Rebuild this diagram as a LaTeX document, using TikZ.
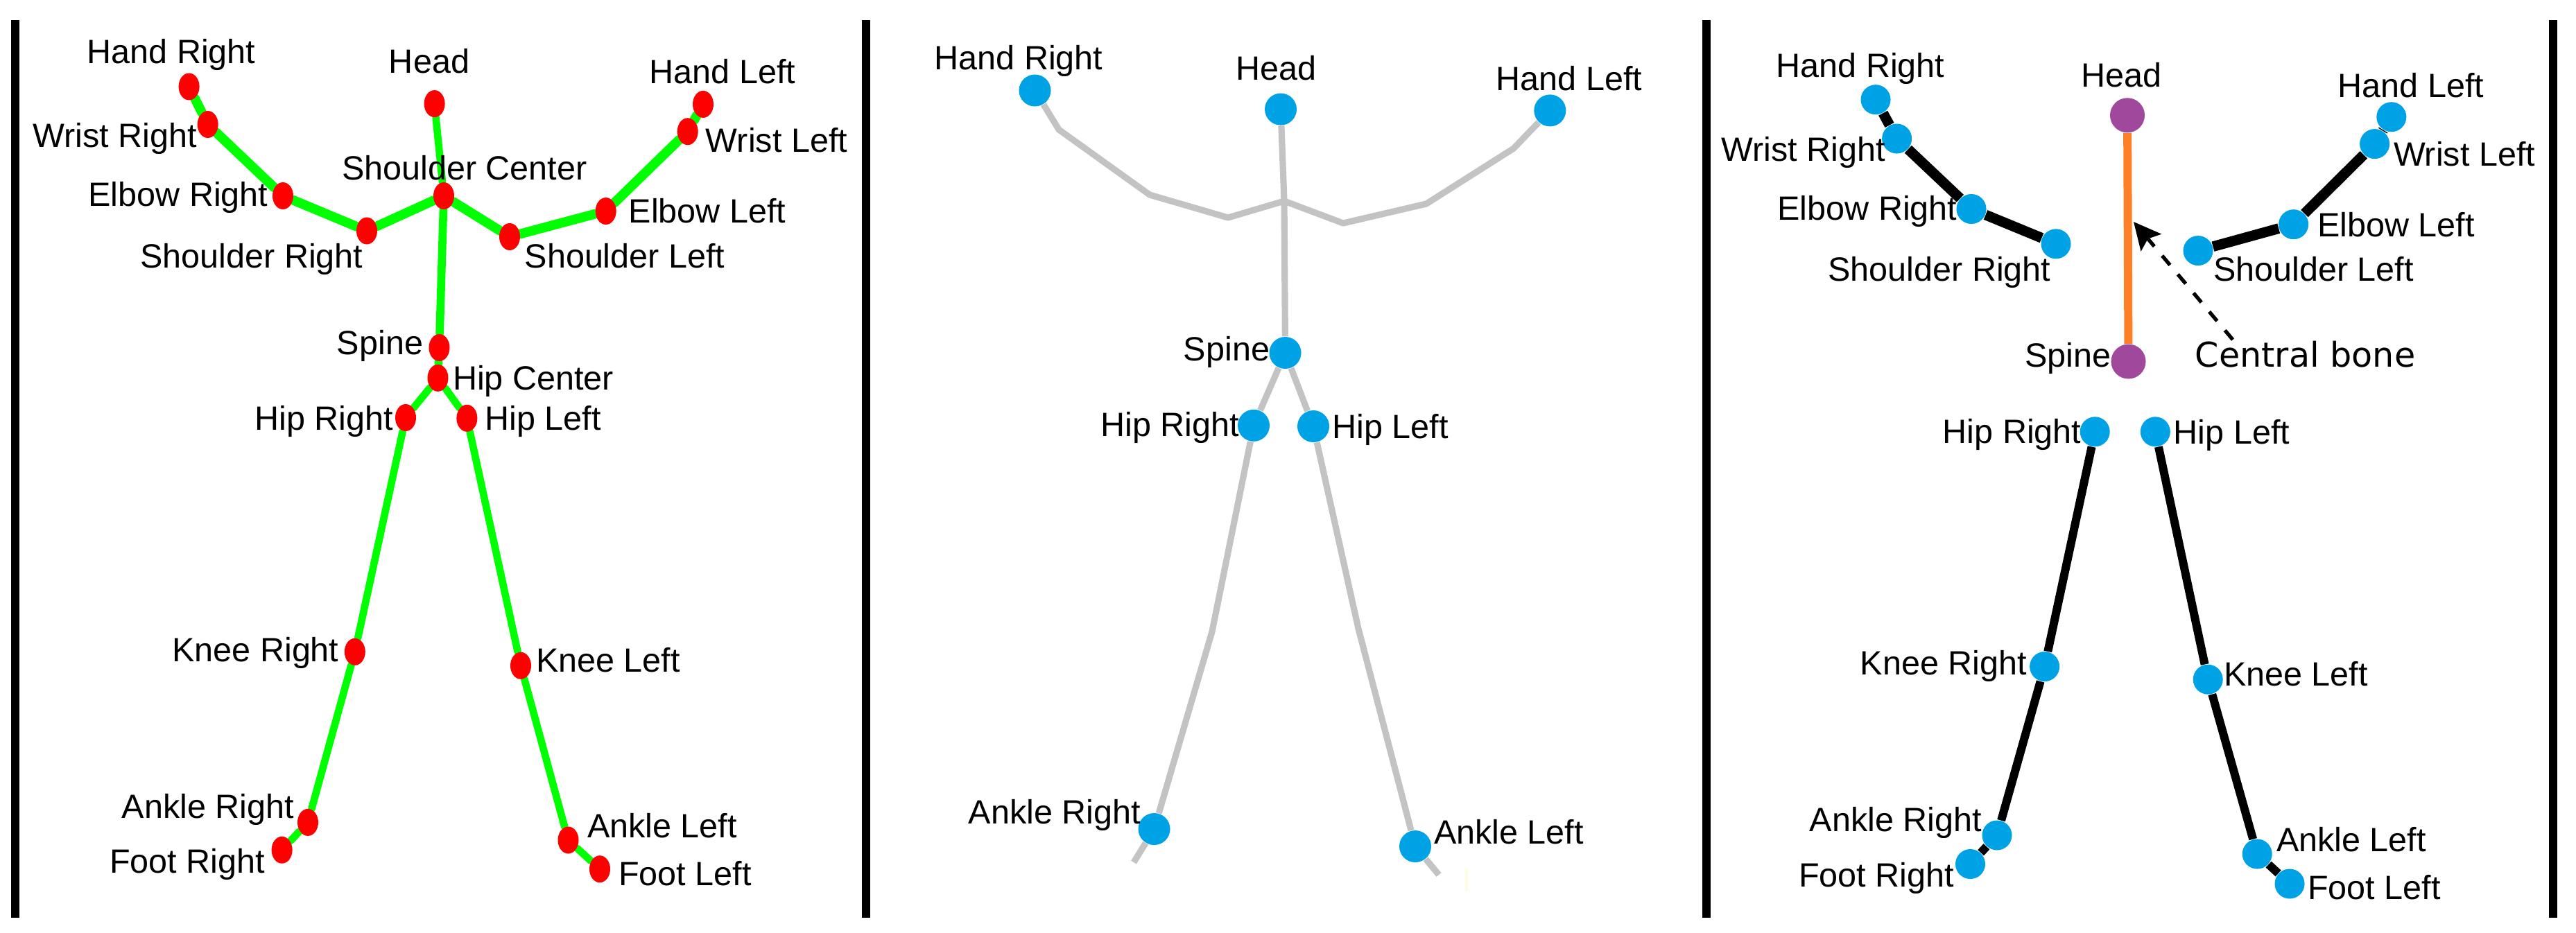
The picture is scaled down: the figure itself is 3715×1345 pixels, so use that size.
\documentclass[tikz,border=0pt]{standalone}
\usepackage{fontspec}
\setmainfont{Liberation Sans}
\newfontfamily\notefont{DejaVu Sans}
\usetikzlibrary{arrows.meta, shapes.geometric, backgrounds}
\definecolor{jred}{HTML}{FF0000}
\definecolor{jgreen}{HTML}{00FF00}
\definecolor{jblue}{HTML}{00A2E6}
\definecolor{jgrey}{HTML}{C3C3C3}
\definecolor{jpurple}{HTML}{A0489B}
\definecolor{jorange}{HTML}{FF7F27}
\tikzset{
  every picture/.style={font=\fontsize{13.8}{16}\selectfont},
  lbl/.style={anchor=base, inner sep=0pt},
  panelrule/.style={line width=3.4pt},
  rdot/.style={ellipse, fill=jred, minimum width=0.3cm, minimum height=0.39cm, inner sep=0pt},
  bdot/.style={circle, fill=jblue, minimum size=#1, inner sep=0pt},
  bdot/.default=0.46cm,
  pdot/.style={circle, fill=jpurple, minimum size=0.5cm, inner sep=0pt},
  gbone/.style={draw=jgreen, line width=#1, line cap=round},
  gbone/.default=3pt,
  greybone/.style={draw=jgrey, line width=2.6pt, line join=round},
  kbone/.style={draw=black, line width=#1},
  kbone/.default=3.4pt,
  central/.style={draw=jorange, line width=3.4pt},
  pointer/.style={-{Stealth[length=0.39cm, width=0.38cm, inset=0.07cm]}, dash pattern=on 5pt off 5pt, line width=1.5pt},
}

\begin{document}
\begin{tikzpicture}[x=0.01cm, y=-0.01cm]
  \useasboundingbox (0,0) rectangle (3715,1345);
  \draw[panelrule] (22,29) -- (22,1324);
  \draw[panelrule] (1249,29) -- (1249,1324);
  \draw[panelrule] (2461,29) -- (2461,1324);
  \draw[panelrule] (3682,29) -- (3682,1324);

  % kinect joints
  \node[rdot] (a-hr) at (272.6,125) {};
  \node[rdot] (a-wr) at (299.7,179.5) {};
  \node[rdot] (a-er) at (408,282.5) {};
  \node[rdot] (a-sr) at (529,333) {};
  \node[rdot] (a-sc) at (640,282.5) {};
  \node[rdot] (a-head) at (626.6,149.6) {};
  \node[rdot] (a-sl) at (735,341.5) {};
  \node[rdot] (a-el) at (873.7,304.5) {};
  \node[rdot] (a-wl) at (991.7,189.7) {};
  \node[rdot] (a-hl) at (1014,150.4) {};
  \node[rdot] (a-sp) at (633.5,501.5) {};
  \node[rdot] (a-hc) at (631.5,545.3) {};
  \node[rdot] (a-hpr) at (585,602.5) {};
  \node[rdot] (a-hpl) at (673.4,603.3) {};
  \node[rdot] (a-kr) at (511.8,940.3) {};
  \node[rdot] (a-kl) at (751,960.3) {};
  \node[rdot] (a-ar) at (444,1186.4) {};
  \node[rdot] (a-fr) at (406.6,1226.2) {};
  \node[rdot] (a-al) at (819.5,1212) {};
  \node[rdot] (a-fl) at (865,1253.7) {};
  \begin{scope}[on background layer]
    \draw[gbone=3.9pt] (a-hr) -- (a-wr) -- (a-er) -- (a-sr) -- (a-sc) -- (a-sl) -- (a-el) -- (a-wl) -- (a-hl);
    \draw[gbone] (a-head) -- (a-sc);
    \draw[gbone=3.3pt] (a-sc) -- (a-sp) -- (a-hc);
    \draw[gbone] (a-hc) -- (a-hpr) -- (a-kr) -- (a-ar) -- (a-fr);
    \draw[gbone] (a-hc) -- (a-hpl) -- (a-kl) -- (a-al) -- (a-fl);
  \end{scope}
  \node[lbl] (a-hr-t) at (247,91.5) {Hand Right};
  \node[lbl] (a-head-t) at (619,105) {Head};
  \node[lbl] (a-hl-t) at (1042,120) {Hand Left};
  \node[lbl] (a-wr-t) at (165.5,212) {Wrist Right};
  \node[lbl] (a-wl-t) at (1120,219) {Wrist Left};
  \node[lbl] (a-sc-t) at (670,259) {Shoulder Center};
  \node[lbl] (a-er-t) at (257,297) {Elbow Right};
  \node[lbl] (a-el-t) at (1020,321) {Elbow Left};
  \node[lbl] (a-sr-t) at (363,386) {Shoulder Right};
  \node[lbl] (a-sl-t) at (901,386) {Shoulder Left};
  \node[lbl] (a-sp-t) at (548,511) {Spine};
  \node[lbl] (a-hc-t) at (769,562) {Hip Center};
  \node[lbl] (a-hpr-t) at (467,620) {Hip Right};
  \node[lbl] (a-hpl-t) at (783,620) {Hip Left};
  \node[lbl] (a-kr-t) at (368.5,954) {Knee Right};
  \node[lbl] (a-kl-t) at (877,969) {Knee Left};
  \node[lbl] (a-ar-t) at (300,1180) {Ankle Right};
  \node[lbl] (a-fr-t) at (270,1259) {Foot Right};
  \node[lbl] (a-al-t) at (955,1208.5) {Ankle Left};
  \node[lbl] (a-fl-t) at (988,1277) {Foot Left};

  % selected joints
  \node[bdot] (b-hr) at (1492.5,130.5) {};
  \node[bdot] (b-head) at (1847,157.6) {};
  \node[bdot] (b-hl) at (2235.3,159.4) {};
  \node[bdot] (b-sp) at (1853.5,509) {};
  \node[bdot] (b-hpr) at (1808,613.8) {};
  \node[bdot] (b-hpl) at (1894,615) {};
  \node[bdot] (b-ar) at (1664.5,1196) {};
  \node[bdot] (b-al) at (2041,1221) {};
  \coordinate (b-wr) at (1527,187);
  \coordinate (b-er) at (1658,281);
  \coordinate (b-sr) at (1771,314);
  \coordinate (b-sc) at (1852,290);
  \coordinate (b-sl) at (1937,322);
  \coordinate (b-el) at (2057,294);
  \coordinate (b-wl) at (2183,214);
  \coordinate (b-kr) at (1748,911);
  \coordinate (b-kl) at (1959,907);
  \coordinate (b-fr) at (1635,1244);
  \coordinate (b-fl) at (2075,1262);
  \coordinate (b-spot) at (2115,1253);
  \coordinate (b-spotend) at (2115,1286);
  \begin{scope}[on background layer]
    \draw[greybone] (b-hr) -- (b-wr) -- (b-er) -- (b-sr) -- (b-sc) -- (b-sl) -- (b-el) -- (b-wl) -- (b-hl);
    \draw[greybone] (b-head) -- (b-sc) -- (b-sp);
    \draw[greybone] (b-sp) -- (b-hpr) -- (b-kr) -- (b-ar) -- (b-fr);
    \draw[greybone] (b-sp) -- (b-hpl) -- (b-kl) -- (b-al) -- (b-fl);
    \draw[yellow!12, line width=1pt] (b-spot) -- (b-spotend);
  \end{scope}
  \node[lbl] (b-hr-t) at (1469,100) {Hand Right};
  \node[lbl] (b-head-t) at (1840,115) {Head};
  \node[lbl] (b-hl-t) at (2263,130) {Hand Left};
  \node[lbl] (b-sp-t) at (1769,520) {Spine};
  \node[lbl] (b-hpr-t) at (1687,629) {Hip Right};
  \node[lbl] (b-hpl-t) at (2005,632) {Hip Left};
  \node[lbl] (b-ar-t) at (1521,1188.6) {Ankle Right};
  \node[lbl] (b-al-t) at (2176,1217) {Ankle Left};

  % limbs and central bone
  \node[bdot=0.43cm] (c-hr) at (2705,143.7) {};
  \node[bdot=0.43cm] (c-wr) at (2735.6,200) {};
  \node[bdot=0.43cm] (c-er) at (2843,301.5) {};
  \node[bdot=0.43cm] (c-sr) at (2965,351.8) {};
  \node[pdot] (c-head) at (3068,166.3) {};
  \node[pdot] (c-sp) at (3069.5,521.5) {};
  \node[bdot=0.43cm] (c-hl) at (3448.8,168.7) {};
  \node[bdot=0.43cm] (c-wl) at (3424.6,207.6) {};
  \node[bdot=0.43cm] (c-el) at (3307.6,323.7) {};
  \node[bdot=0.43cm] (c-sl) at (3170,361.6) {};
  \node[bdot=0.43cm] (c-hpr) at (3021.2,622.8) {};
  \node[bdot=0.43cm] (c-hpl) at (3108.3,622.8) {};
  \node[bdot=0.43cm] (c-kr) at (2948.6,961.6) {};
  \node[bdot=0.43cm] (c-kl) at (3184.2,980.2) {};
  \node[bdot=0.43cm] (c-ar) at (2880,1205) {};
  \node[bdot=0.43cm] (c-fr) at (2841.5,1246.5) {};
  \node[bdot=0.43cm] (c-al) at (3255.2,1232) {};
  \node[bdot=0.43cm] (c-fl) at (3302,1275) {};
  \begin{scope}[on background layer]
    \draw[kbone=4.2pt] (c-hr) -- (c-wr) -- (c-er) -- (c-sr);
    \draw[kbone=4.2pt] (c-hl) -- (c-wl) -- (c-el) -- (c-sl);
    \draw[kbone] (c-hpr) -- (c-kr) -- (c-ar) -- (c-fr);
    \draw[kbone] (c-hpl) -- (c-kl) -- (c-al) -- (c-fl);
    \draw[central] (c-head) -- (c-sp);
  \end{scope}
  \node[lbl] (c-hr-t) at (2683,111.6) {Hand Right};
  \node[lbl] (c-head-t) at (3059,125) {Head};
  \node[lbl] (c-hl-t) at (3477,140.6) {Hand Left};
  \node[lbl] (c-wr-t) at (2601,232) {Wrist Right};
  \node[lbl] (c-wl-t) at (3554,239) {Wrist Left};
  \node[lbl] (c-er-t) at (2693,317) {Elbow Right};
  \node[lbl] (c-el-t) at (3455.6,341.5) {Elbow Left};
  \node[lbl] (c-sr-t) at (2797,405) {Shoulder Right};
  \node[lbl] (c-sl-t) at (3336.6,405) {Shoulder Left};
  \node[lbl] (c-sp-t) at (2982.5,529) {Spine};
  \node[lbl] (c-hpr-t) at (2901.6,639) {Hip Right};
  \node[lbl] (c-hpl-t) at (3218.5,640.6) {Hip Left};
  \node[lbl] (c-kr-t) at (2803,973.6) {Knee Right};
  \node[lbl] (c-kl-t) at (3311,989) {Knee Left};
  \node[lbl] (c-ar-t) at (2734,1199.6) {Ankle Right};
  \node[lbl] (c-fr-t) at (2706,1279.4) {Foot Right};
  \node[lbl] (c-al-t) at (3391,1228.5) {Ankle Left};
  \node[lbl] (c-fl-t) at (3424,1297) {Foot Left};
  \node[lbl, font=\notefont\fontsize{14}{16}\selectfont] (c-note) at (3324.5,529) {Central bone};
  \coordinate (c-tail) at (3220,490);
  \coordinate (c-tip) at (3077,320);
  \draw[pointer] (c-tail) -- (c-tip);
\end{tikzpicture}
\end{document}
